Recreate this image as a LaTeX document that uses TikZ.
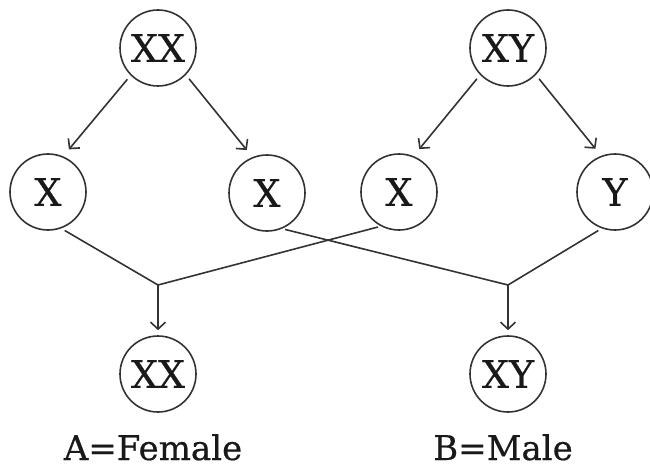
\documentclass[tikz,border=0pt]{standalone}
\usepackage{fontspec}
\setmainfont{DejaVu Serif}
\newfontfamily\heavyserif{DejaVu Serif}[FakeBold=0.5]
\usetikzlibrary{arrows.meta}
\definecolor{ink}{HTML}{333333}
\begin{document}
\begin{tikzpicture}[x=1pt,y=-1pt,
  chrom/.style={circle,draw=ink,line width=1.6pt,minimum size=76pt,inner sep=0pt,
    font=\heavyserif\fontsize{38}{38}\selectfont,text=black!90},
  conn/.style={draw=ink,line width=1.6pt},
  arr/.style={conn,-{Straight Barb[length=7pt,width=15pt,line width=1.6pt]}},
  lab/.style={font=\heavyserif\fontsize{34}{34}\selectfont,text=black!90,inner sep=0pt,anchor=base}]
\useasboundingbox (0,0) rectangle (650,468);
\node[chrom] (PF) at (158,48) {XX};
\node[chrom] (PM) at (508,48) {XY};
\node[chrom] (X1) at (48,192) {X};
\node[chrom] (X2) at (267,193) {X};
\node[chrom] (X3) at (399,192) {X};
\node[chrom] (Y)  at (615,192) {Y};
\node[chrom] (F)  at (158,374) {XX};
\node[chrom] (M)  at (508,374) {XY};
\coordinate (J1) at (158,285);
\coordinate (J2) at (508,285);
\node[lab] (LA) at (153,460) {A=Female};
\node[lab] (LB) at (503,460) {B=Male};
\draw[arr,shorten <=5pt,shorten >=9pt] (PF.-135) -- (X1.67);
\draw[arr,shorten <=5pt,shorten >=9pt] (PF.-44) -- (X2.112);
\draw[arr,shorten <=5pt,shorten >=9pt] (PM.-136) -- (X3.68);
\draw[arr,shorten <=5pt,shorten >=9pt] (PM.-44) -- (Y.111);
\draw[conn,shorten <=4pt,shorten >=3pt] (X1.-70) -- (J1) -- (X3.-118);
\draw[conn,shorten <=3pt,shorten >=4pt] (X2.-67) -- (J2) -- (Y.-110);
\draw[arr,shorten >=5pt] (J1) -- (F);
\draw[arr,shorten >=5pt] (J2) -- (M);
\end{tikzpicture}
\end{document}
